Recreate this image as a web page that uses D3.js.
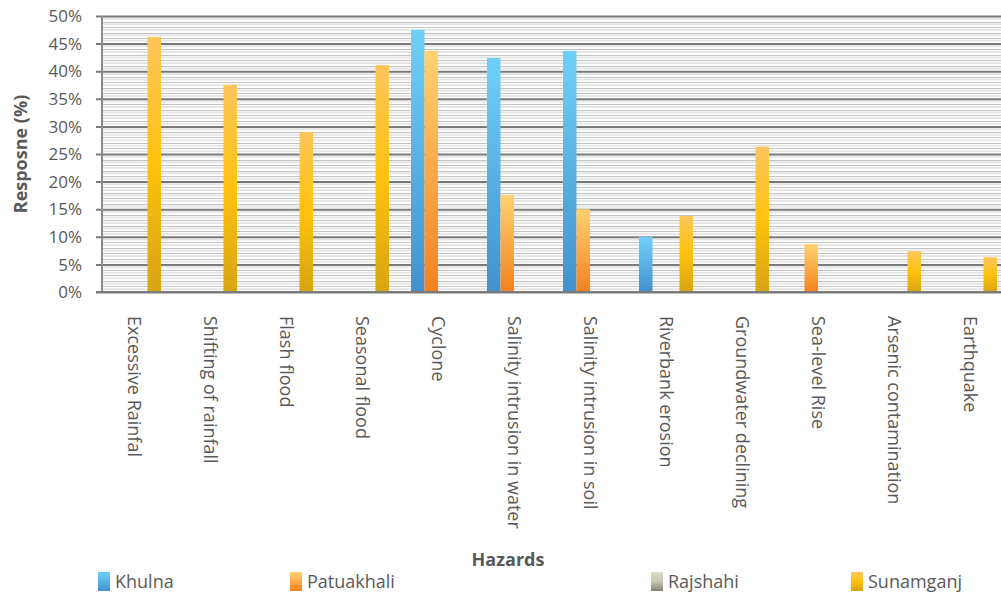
<!DOCTYPE html>
<html>
<head>
<meta charset="utf-8">
<script src="https://cdn.jsdelivr.net/npm/d3@7"></script>
<style>
  html, body { margin: 0; padding: 0; background: #fff; }
  svg { display: block; }
  text { font-family: "Open Sans", Lato, sans-serif; fill: #595959; }
</style>
</head>
<body>
<svg id="chart" width="1001" height="594"></svg>
<script>
// Hazard categories along the x axis
const categories = [
  "Excessive Rainfal", "Shifting of rainfall", "Flash flood", "Seasonal flood",
  "Cyclone", "Salinity intrusion in water", "Salinity intrusion in soil",
  "Riverbank erosion", "Groundwater declining", "Sea-level Rise",
  "Arsenic contamination", "Earthquake"
];

// Response (%) per district
const khulna     = [0, 0, 0, 0, 47.5, 42.4, 43.7, 10.0, 0, 0, 0, 0];
const patuakhali = [0, 0, 0, 0, 43.7, 17.6, 15.0, 0, 0, 8.7, 0, 0];
const rajshahi   = [0, 0, 0, 0, 0, 0, 0, 0, 0, 0, 0, 0];
const sunamganj  = [46.2, 37.5, 29.0, 41.1, 0, 0, 0, 13.8, 26.3, 0, 7.4, 6.3];

const seriesNames = ["Khulna", "Patuakhali", "Rajshahi", "Sunamganj"];
const seriesValues = [khulna, patuakhali, rajshahi, sunamganj];

// Y axis ticks (%)
const yTicks = [0, 5, 10, 15, 20, 25, 30, 35, 40, 45, 50];

// ---- layout ----
const plot = { left: 102, right: 1001, top: 16, bottom: 292 };

const svg = d3.select("#chart");
const defs = svg.append("defs");

// vertical gradient fills for each district
const gradients = {
  Khulna:     [[0, "#6fd1f7"], [1, "#4391cf"]],
  Patuakhali: [[0, "#ffd272"], [1, "#f4811f"]],
  Rajshahi:   [[0, "#dddbc9"], [0.5, "#c8c5b1"], [1, "#85836d"]],
  Sunamganj:  [[0, "#fdc65c"], [0.5, "#ffc20e"], [1, "#d7a413"]]
};
Object.entries(gradients).forEach(([name, stops]) => {
  const g = defs.append("linearGradient")
    .attr("id", "grad-" + name)
    .attr("x1", 0).attr("y1", 0).attr("x2", 0).attr("y2", 1);
  stops.forEach(([o, c]) => g.append("stop").attr("offset", o).attr("stop-color", c));
});

const y = d3.scaleLinear().domain([0, 50]).range([plot.bottom, plot.top]);
const x = d3.scaleBand().domain(categories).range([96, 1008]);
const xs = d3.scaleBand().domain(seriesNames).range([-27, 27]);

// minor gridlines (every 1%, with a soft band at the half step)
const minor = d3.range(0, 50, 1).filter(v => v % 5 !== 0);
svg.append("g").selectAll("line")
  .data(d3.range(0.5, 50, 1))
  .join("line")
  .attr("x1", plot.left).attr("x2", plot.right)
  .attr("y1", d => y(d)).attr("y2", d => y(d))
  .attr("stroke", "#e6e6e6").attr("stroke-width", 2);
svg.append("g").selectAll("line")
  .data(minor)
  .join("line")
  .attr("x1", plot.left).attr("x2", plot.right)
  .attr("y1", d => Math.round(y(d)) + 0.5).attr("y2", d => Math.round(y(d)) + 0.5)
  .attr("stroke", "#c4c4c4").attr("stroke-width", 1);

// y axis with major gridlines
const yAxis = d3.axisLeft(y)
  .tickValues(yTicks)
  .tickFormat(d => d + "%")
  .tickSize(-(plot.right - plot.left));
const gy = svg.append("g")
  .attr("transform", `translate(${plot.left},0)`)
  .call(yAxis);
gy.select(".domain").remove();
gy.selectAll(".tick line")
  .attr("x1", -6).attr("x2", plot.right - plot.left)
  .attr("stroke", "#7a7a7a").attr("stroke-width", 2);
gy.selectAll(".tick text")
  .attr("x", -20)
  .attr("dy", "0.34em")
  .attr("text-anchor", "end")
  .style("font-family", "'Open Sans', Lato, sans-serif")
  .style("font-size", "17px")
  .attr("fill", "#595959");

// bars
const barData = [];
categories.forEach((c, i) => {
  seriesNames.forEach((s, j) => {
    barData.push({ cat: c, series: s, value: seriesValues[j][i] });
  });
});
svg.append("g").selectAll("rect")
  .data(barData.filter(d => d.value > 0))
  .join("rect")
  .attr("x", d => x(d.cat) + x.bandwidth() / 2 + xs(d.series))
  .attr("width", xs.bandwidth())
  .attr("y", d => y(d.value))
  .attr("height", d => y(0) - y(d.value))
  .attr("fill", d => `url(#grad-${d.series})`);

// axis lines
svg.append("line")
  .attr("x1", plot.left).attr("x2", plot.left)
  .attr("y1", plot.top).attr("y2", plot.bottom)
  .attr("stroke", "#8a8a8a").attr("stroke-width", 2);
svg.append("line")
  .attr("x1", plot.left - 6).attr("x2", plot.right)
  .attr("y1", plot.bottom).attr("y2", plot.bottom)
  .attr("stroke", "#7a7a7a").attr("stroke-width", 2);

// category labels, rotated to read downward
svg.append("g").selectAll("text")
  .data(categories)
  .join("text")
  .attr("transform", d => `translate(${x(d) + x.bandwidth() / 2},316) rotate(90)`)
  .attr("dy", "0.35em")
  .attr("text-anchor", "start")
  .style("font-size", "18px")
  .text(d => d);

// axis titles
svg.append("text")
  .attr("transform", `translate(27,${(plot.top + plot.bottom) / 2}) rotate(-90)`)
  .attr("text-anchor", "middle")
  .style("font-size", "18px")
  .style("font-weight", "bold")
  .text("Resposne (%)");
svg.append("text")
  .attr("x", 508).attr("y", 566)
  .attr("text-anchor", "middle")
  .style("font-size", "18px")
  .style("font-weight", "bold")
  .text("Hazards");

// legend
const legendX = [98, 290, 651, 851];
const lg = svg.append("g").selectAll("g")
  .data(seriesNames)
  .join("g")
  .attr("transform", (d, i) => `translate(${legendX[i]},572)`);
lg.append("rect")
  .attr("width", 12).attr("height", 19)
  .attr("fill", d => `url(#grad-${d})`);
lg.append("text")
  .attr("x", 17).attr("y", 16)
  .style("font-size", "18px")
  .text(d => d);
</script>
</body>
</html>
